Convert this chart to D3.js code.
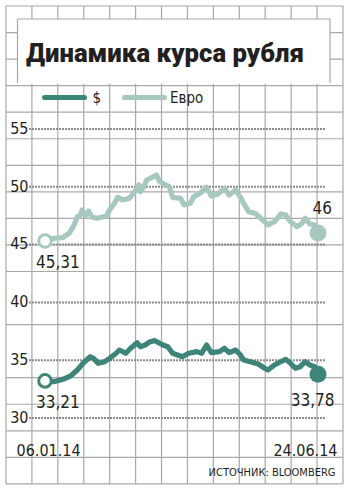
<!DOCTYPE html>
<html>
<head>
<meta charset="utf-8">
<script src="https://cdn.jsdelivr.net/npm/d3@7"></script>
<style>
  body { margin: 0; background: #fff; }
  text { font-family: "Liberation Sans Narrow", "DejaVu Sans Condensed", "Roboto", sans-serif; fill: #231f20; }
  .title { font-family: "Roboto", "Inter", sans-serif; font-weight: 900; }
</style>
</head>
<body>
<svg width="351" height="492"></svg>
<script>
const svg = d3.select('svg');

// data: days after 06.01.14 and rate in rubles
const startDate = new Date(2014, 0, 6);
const endDay = 169;
const eurDays = [0, 6, 11, 15, 18, 20, 22, 23, 25, 27, 29, 32, 35, 38, 40, 43, 45, 48, 52, 54, 57, 58, 59, 61, 63, 67, 69, 71, 75, 77, 79, 84, 86, 90, 92, 96, 100, 103, 107, 111, 114, 118, 121, 123, 126, 130, 133, 138, 142, 146, 149, 152, 156, 159, 161, 164, 167, 169];
const eurValues = [45.31, 45.55, 45.6, 45.98, 46.7, 47.41, 47.56, 47.99, 47.47, 47.9, 47.39, 47.28, 47.36, 47.47, 47.99, 48.57, 49.09, 48.86, 49.0, 49.29, 49.87, 50.16, 49.58, 49.96, 50.59, 50.87, 51.02, 50.44, 50.16, 50.01, 49.09, 49.0, 48.43, 48.57, 49.14, 49.44, 49.96, 49.2, 49.38, 49.87, 49.29, 49.72, 49.09, 48.57, 47.85, 47.71, 47.36, 46.7, 46.98, 47.65, 47.56, 46.98, 46.55, 46.84, 47.28, 46.78, 46.7, 46.0];
const usdDays = [0, 6, 11, 16, 20, 24, 28, 30, 33, 37, 40, 44, 46, 50, 53, 57, 59, 62, 65, 68, 71, 73, 76, 79, 85, 89, 94, 97, 100, 103, 108, 111, 114, 118, 121, 123, 127, 132, 136, 138, 142, 149, 152, 155, 158, 161, 164, 167, 169];
const usdValues = [33.21, 33.15, 33.35, 33.65, 34.15, 34.8, 35.3, 35.16, 34.73, 34.87, 35.16, 35.6, 35.88, 35.6, 36.03, 36.51, 36.17, 36.31, 36.6, 36.69, 36.46, 36.31, 36.17, 35.6, 35.3, 35.6, 35.74, 35.6, 36.31, 35.65, 35.74, 36.03, 35.65, 35.88, 35.45, 35.02, 34.87, 34.67, 34.3, 34.15, 34.58, 35.08, 34.73, 34.3, 34.44, 34.87, 34.58, 34.44, 33.78];
const yTicks = [30, 35, 40, 45, 50, 55];
const seriesNames = ['$', 'Евро'];
const seriesColors = ['#3e8579', '#a7c8c0'];
const dateLabels = ['06.01.14', '24.06.14'];
const startLabels = ['33,21', '45,31'];
const endLabels = ['33,78', '46'];

const series = [
  { name: seriesNames[0], color: seriesColors[0], points: usdDays.map((d, i) => ({ day: d, value: usdValues[i] })) },
  { name: seriesNames[1], color: seriesColors[1], points: eurDays.map((d, i) => ({ day: d, value: eurValues[i] })) }
];

const dayToDate = d => d3.timeDay.offset(startDate, d);

const xscale = d3.scaleTime()
  .domain([startDate, dayToDate(endDay)])
  .range([45, 318]);

const yscale = d3.scaleLinear()
  .domain([30, 55])
  .range([418, 129]);

// background grid
const gridColor = '#a8a8a8';
const gridX = d3.range(14).map(i => 6 + i * 25.92);
const gridY = d3.range(19).map(i => 6 + i * 26.55).filter((y, i) => i !== 11 && i !== 13);

const grid = svg.append('g').attr('stroke', gridColor).attr('stroke-width', 1.2);
grid.selectAll('.vx').data(gridX).enter().append('line')
  .attr('x1', d => d).attr('x2', d => d).attr('y1', 6).attr('y2', 484);
grid.selectAll('.hy').data(gridY).enter().append('line')
  .attr('x1', 6).attr('x2', 343).attr('y1', d => d).attr('y2', d => d);

// title box
svg.append('rect')
  .attr('x', 17.5).attr('y', 19).attr('width', 312.5).attr('height', 65)
  .attr('fill', '#fff');
svg.append('path')
  .attr('d', 'M17.5,83 V19 H330 V83')
  .attr('fill', 'none').attr('stroke', gridColor).attr('stroke-width', 1.2);

svg.append('text')
  .attr('class', 'title')
  .attr('x', 26).attr('y', 62)
  .attr('font-size', 26)
  .attr('textLength', 278).attr('lengthAdjust', 'spacingAndGlyphs')
  .text('Динамика курса рубля');

// legend
const legend = svg.append('g');
series.forEach((s, i) => {
  const lx = 44.5 + i * 80;
  legend.append('line')
    .attr('x1', lx).attr('x2', lx + 40).attr('y1', 97.5).attr('y2', 97.5)
    .attr('stroke', s.color).attr('stroke-width', 5).attr('stroke-linecap', 'round');
  legend.append('text')
    .attr('x', lx + 48 + (i ? -2.5 : 0)).attr('y', 102.5)
    .attr('font-size', 15)
    .text(s.name);
});

// dotted reference lines + y labels
const yaxisG = svg.append('g');
yaxisG.selectAll('line').data(yTicks).enter().append('line')
  .attr('x1', 29).attr('x2', 325)
  .attr('y1', d => yscale(d)).attr('y2', d => yscale(d))
  .attr('stroke', '#8c8c8c').attr('stroke-width', 2).attr('stroke-dasharray', '2,1');
yaxisG.selectAll('text').data(yTicks).enter().append('text')
  .attr('x', 28.5).attr('y', d => yscale(d) + 4.8)
  .attr('text-anchor', 'end')
  .attr('font-size', 16)
  .text(d => d);

// lines
const line = d3.line()
  .x(d => xscale(dayToDate(d.day)))
  .y(d => yscale(d.value));

const linesG = svg.append('g');
series.forEach(s => {
  linesG.append('path')
    .datum(s.points)
    .attr('d', line)
    .attr('fill', 'none')
    .attr('stroke', s.color)
    .attr('stroke-width', 5.2)
    .attr('stroke-linejoin', 'round')
    .attr('stroke-linecap', 'round');
});

// start / end markers and labels
series.forEach((s, i) => {
  const first = s.points[0];
  const last = s.points[s.points.length - 1];
  const fx = xscale(dayToDate(first.day)), fy = yscale(first.value);
  const ex = xscale(dayToDate(last.day)), ey = yscale(last.value);

  linesG.append('circle')
    .attr('cx', fx).attr('cy', fy).attr('r', 6.3)
    .attr('fill', '#fff').attr('stroke', s.color).attr('stroke-width', 3);
  linesG.append('circle')
    .attr('cx', ex).attr('cy', ey).attr('r', 8.5)
    .attr('fill', s.color);

  svg.append('text')
    .attr('x', fx - 9).attr('y', fy + 27)
    .attr('font-size', 17).attr('font-weight', 500)
    .text(startLabels[i]);
  svg.append('text')
    .attr('x', i ? ex + 14 : ex + 16.5).attr('y', i ? ey - 19 : ey + 32)
    .attr('text-anchor', 'end')
    .attr('font-size', 17).attr('font-weight', 500)
    .text(endLabels[i]);
});

// x labels
svg.append('text')
  .attr('x', 16.5).attr('y', 456)
  .attr('font-size', 16)
  .text(dateLabels[0]);
svg.append('text')
  .attr('x', 337.5).attr('y', 455.5)
  .attr('text-anchor', 'end')
  .attr('font-size', 16)
  .text(dateLabels[1]);

svg.append('text')
  .attr('x', 335.5).attr('y', 475.5)
  .attr('text-anchor', 'end')
  .attr('font-size', 11)
  .text('ИСТОЧНИК: BLOOMBERG');
</script>
</body>
</html>
